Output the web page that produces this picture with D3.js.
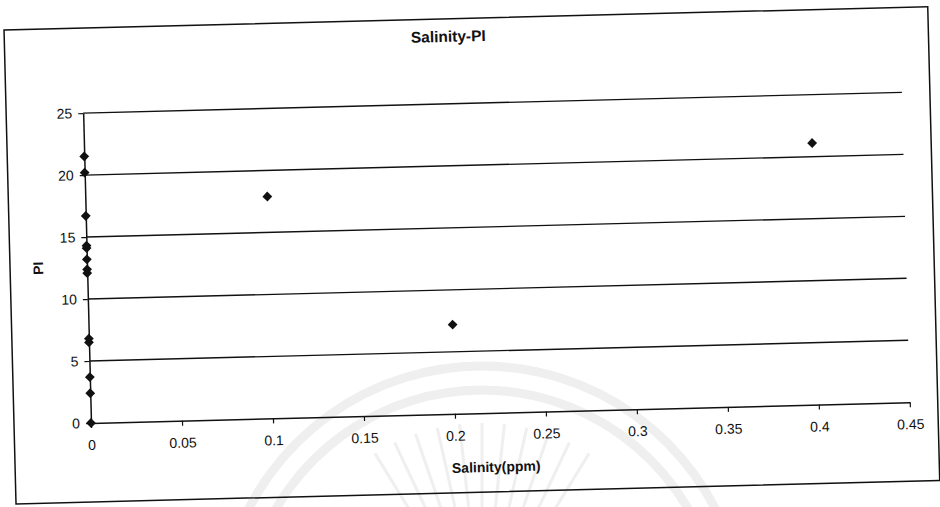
<!DOCTYPE html>
<html>
<head>
<meta charset="utf-8">
<script src="https://cdn.jsdelivr.net/npm/d3@7/dist/d3.min.js"></script>
<style>
  html, body { margin: 0; padding: 0; background: #fff; }
  svg { display: block; font-family: "Liberation Sans", Arial, sans-serif; }
</style>
</head>
<body>
<svg id="chart" width="940" height="507"></svg>
<script>
// Salinity (ppm) against PI
const salinity = [0, 0, 0, 0, 0, 0, 0, 0, 0, 0, 0, 0, 0, 0.1, 0.2, 0.4];
const piValues = [21.5, 20.2, 16.7, 14.3, 14.1, 13.2, 12.4, 12.1, 6.8, 6.5, 3.7, 2.4, 0, 17.9, 7.2, 21.1];
const xTicks = [0, 0.05, 0.1, 0.15, 0.2, 0.25, 0.3, 0.35, 0.4, 0.45];
const yTicks = [0, 5, 10, 15, 20, 25];
const titleText = "Salinity-PI";
const xTitle = "Salinity(ppm)";
const yTitle = "PI";

const svg = d3.select("#chart");
const plot = { left: 91, right: 910, top: 113, bottom: 423 };

const x = d3.scaleLinear().domain([0, 0.45]).range([plot.left, plot.right]);
const y = d3.scaleLinear().domain([0, 25]).range([plot.bottom, plot.top]);

// faint background emblem
const emblem = svg.append("g").attr("fill", "none").attr("stroke", "#efefef");
[262, 238].forEach(r => {
  emblem.append("path")
    .attr("stroke-width", 9)
    .attr("d", d3.arc()({ innerRadius: r, outerRadius: r, startAngle: -1.25, endAngle: 1.25 }))
    .attr("transform", "translate(482,628)");
});
d3.range(-0.55, 0.56, 0.11).forEach(a => {
  emblem.append("line")
    .attr("stroke-width", 3)
    .attr("x1", 482 + Math.sin(a) * 95).attr("y1", 628 - Math.cos(a) * 95)
    .attr("x2", 482 + Math.sin(a) * 205).attr("y2", 628 - Math.cos(a) * 205);
});

// whole chart sits slightly tilted
const g = svg.append("g").attr("transform", `rotate(-1.45, ${plot.left}, ${plot.bottom})`);

// outer frame
g.append("rect")
  .attr("x", 14).attr("y", 28).attr("width", 924).attr("height", 474)
  .attr("fill", "none").attr("stroke", "#111").attr("stroke-width", 1.5);

// horizontal gridlines
g.append("g").selectAll("line")
  .data(yTicks.filter(d => d > 0))
  .join("line")
  .attr("x1", plot.left).attr("x2", plot.right)
  .attr("y1", d => y(d)).attr("y2", d => y(d))
  .attr("stroke", "#111").attr("stroke-width", 1.4);

// axes
const xAxis = g.append("g")
  .attr("transform", `translate(0,${plot.bottom})`)
  .call(d3.axisBottom(x).tickValues(xTicks).tickFormat(d3.format("")).tickSize(5).tickSizeOuter(0).tickPadding(12));
const yAxis = g.append("g")
  .attr("transform", `translate(${plot.left},0)`)
  .call(d3.axisLeft(y).tickValues(yTicks).tickSize(5).tickSizeOuter(0).tickPadding(6));

[xAxis, yAxis].forEach(ax => {
  ax.select(".domain").attr("stroke", "#111").attr("stroke-width", 1.5);
  ax.selectAll(".tick line").attr("stroke", "#111").attr("stroke-width", 1.2);
  ax.selectAll(".tick text").attr("fill", "#111").style("font-size", "14px");
});

// titles
g.append("text")
  .attr("x", 458).attr("y", 51)
  .attr("text-anchor", "middle")
  .attr("font-weight", "bold").attr("font-size", 15.5).attr("fill", "#111")
  .text(titleText);

g.append("text")
  .attr("x", 495).attr("y", 482)
  .attr("text-anchor", "middle")
  .attr("font-weight", "bold").attr("font-size", 14).attr("fill", "#111")
  .text(xTitle);

g.append("text")
  .attr("transform", `translate(47,267) rotate(-90)`)
  .attr("text-anchor", "middle")
  .attr("font-weight", "bold").attr("font-size", 14).attr("fill", "#111")
  .text(yTitle);

// diamond markers
const diamond = d3.symbol().type(d3.symbolSquare).size(48);
g.append("g").selectAll("path")
  .data(salinity.map((s, i) => ({ s, p: piValues[i] })))
  .join("path")
  .attr("d", diamond)
  .attr("transform", d => `translate(${x(d.s)},${y(d.p)}) rotate(45)`)
  .attr("fill", "#111");
</script>
</body>
</html>
